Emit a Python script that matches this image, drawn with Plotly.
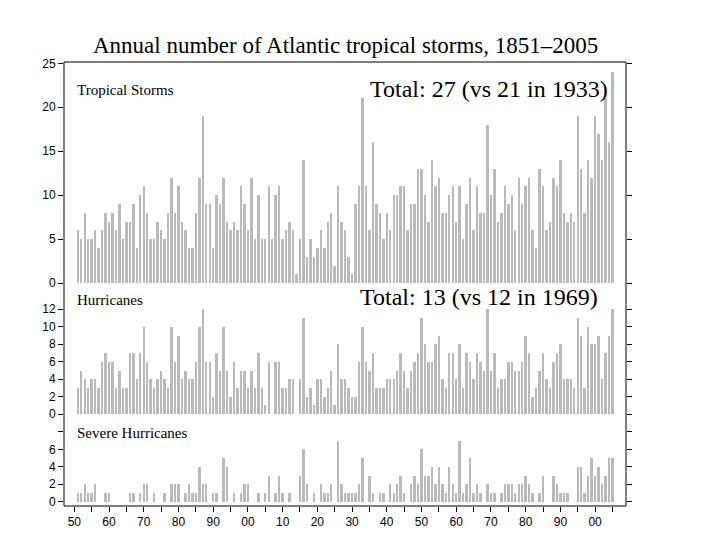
import plotly.graph_objects as go

years = list(range(1851, 2006))

storms = [
    6, 5, 8, 5, 5, 6, 4, 6, 8, 7,
    8, 6, 9, 5, 7, 7, 9, 4, 10, 11,
    8, 5, 5, 7, 6, 5, 8, 12, 8, 11,
    7, 6, 4, 4, 8, 12, 19, 9, 9, 4,
    10, 9, 12, 7, 6, 7, 6, 11, 9, 6,
    12, 5, 10, 5, 5, 11, 5, 10, 11, 5,
    6, 7, 6, 1, 5, 14, 3, 5, 3, 4,
    6, 4, 7, 8, 2, 11, 7, 6, 3, 1,
    9, 11, 21, 11, 6, 16, 9, 8, 5, 8,
    6, 10, 10, 11, 11, 6, 9, 9, 13, 13,
    10, 7, 14, 11, 12, 8, 8, 10, 11, 7,
    11, 5, 9, 12, 6, 11, 8, 8, 18, 10,
    13, 7, 8, 11, 9, 10, 6, 12, 9, 11,
    12, 6, 4, 13, 11, 6, 7, 12, 11, 14,
    8, 7, 8, 7, 19, 13, 8, 14, 12, 19,
    17, 14, 21, 16, 24,
]

hurricanes = [
    3, 5, 4, 3, 4, 4, 3, 6, 7, 6,
    6, 3, 5, 3, 3, 7, 7, 4, 7, 10,
    6, 4, 3, 4, 5, 4, 3, 10, 6, 9,
    4, 5, 4, 4, 6, 10, 12, 6, 6, 2,
    7, 5, 10, 5, 2, 6, 3, 5, 5, 3,
    5, 3, 7, 3, 1, 6, 0, 6, 6, 3,
    3, 4, 4, 0, 4, 11, 2, 3, 1, 4,
    4, 2, 3, 5, 1, 8, 4, 4, 3, 2,
    2, 6, 10, 6, 5, 7, 3, 3, 3, 4,
    4, 4, 5, 7, 5, 3, 5, 6, 7, 11,
    8, 6, 6, 8, 9, 4, 3, 7, 7, 4,
    8, 3, 7, 6, 4, 7, 6, 5, 12, 5,
    7, 3, 4, 4, 6, 6, 5, 5, 6, 9,
    7, 2, 3, 5, 7, 4, 3, 6, 7, 8,
    4, 4, 4, 3, 11, 9, 3, 10, 8, 8,
    9, 4, 7, 9, 12,
]

severe = [
    1, 1, 2, 1, 1, 2, 0, 0, 1, 1,
    0, 0, 0, 0, 0, 1, 1, 0, 1, 2,
    2, 0, 1, 0, 0, 1, 0, 2, 2, 2,
    0, 1, 2, 1, 1, 4, 2, 2, 0, 1,
    1, 0, 5, 4, 0, 1, 0, 1, 2, 2,
    0, 0, 1, 0, 1, 3, 0, 1, 3, 1,
    0, 1, 0, 0, 3, 6, 2, 0, 1, 0,
    2, 1, 1, 2, 0, 7, 2, 1, 1, 1,
    1, 2, 5, 0, 3, 1, 0, 1, 1, 0,
    2, 1, 2, 3, 1, 0, 2, 3, 2, 6,
    3, 3, 4, 2, 4, 2, 1, 4, 2, 1,
    7, 1, 2, 5, 1, 2, 1, 0, 2, 1,
    1, 0, 1, 2, 2, 2, 1, 2, 2, 3,
    2, 1, 0, 1, 3, 0, 0, 3, 2, 1,
    1, 1, 0, 0, 4, 4, 1, 3, 5, 3,
    4, 2, 3, 5, 5,
]

xtick_vals = list(range(1850, 2006, 5))
xtick_text = [("%02d" % (v % 100)) if v % 10 == 0 else "" for v in xtick_vals]

title_text = "Annual number of Atlantic tropical storms, 1851\u20132005"
panel_labels = ["Tropical Storms", "Hurricanes", "Severe Hurricanes"]
total_labels = ["Total: 27 (vs 21 in 1933)", "Total: 13 (vs 12 in 1969)"]

BAR = "#bababa"
SERIF = "Liberation Serif, Times New Roman, serif"
SANS = "Liberation Sans, Arial, sans-serif"

fig = go.Figure()
for vals, ya in [(storms, "y"), (hurricanes, "y2"), (severe, "y3")]:
    fig.add_trace(go.Bar(x=years, y=vals, xaxis="x", yaxis=ya, width=0.7,
                         marker=dict(color=BAR, line=dict(width=0)),
                         showlegend=False, hoverinfo="x+y"))

xr = [1847.03, 2008.9]
yax_common = dict(showgrid=False, zeroline=False, showline=False, ticks="outside",
                  ticklen=5, tickwidth=1, tickcolor="black", mirror="ticks",
                  tickfont=dict(family=SANS, size=12, color="black"), anchor="x")

fig.update_layout(
    width=720, height=540,
    margin=dict(l=64, r=94.3, t=61.7, b=34, pad=0),
    paper_bgcolor="white", plot_bgcolor="white",
    bargap=0,
    xaxis=dict(domain=[0, 1], range=xr, anchor="y3", showgrid=False, zeroline=False,
               showline=False, ticks="outside", ticklen=5, tickwidth=1, tickcolor="black",
               tickvals=xtick_vals, ticktext=xtick_text,
               tickfont=dict(family=SANS, size=12, color="black")),
    xaxis2=dict(range=xr, overlaying="x", side="top", anchor="y", showgrid=False,
                zeroline=False, showline=False, ticks="outside", ticklen=5, tickwidth=1,
                tickcolor="black", tickvals=xtick_vals, showticklabels=False),
    yaxis=dict(domain=[0.4907, 1], range=[-0.57, 25.15], tickvals=[0, 5, 10, 15, 20, 25],
               **yax_common),
    yaxis2=dict(domain=[0.1958, 0.4823], range=[-0.57, 13.98],
                tickvals=[0, 2, 4, 6, 8, 10, 12, 14],
                ticktext=["0", "2", "4", "6", "8", "10", "12", ""], **yax_common),
    yaxis3=dict(domain=[0, 0.1846], range=[-0.49, 8.9], tickvals=[0, 2, 4, 6, 8],
                ticktext=["0", "2", "4", "6", ""], **yax_common),
    shapes=[dict(type="rect", xref="paper", yref="paper", x0=0, x1=1, y0=0, y1=1,
                 line=dict(color="black", width=1), fillcolor="rgba(0,0,0,0)")],
)

def ann(text, x, y, size, xanchor="left"):
    fig.add_annotation(text=text, xref="paper", yref="paper", x=x, y=y,
                       xanchor=xanchor, yanchor="middle", showarrow=False,
                       font=dict(family=SERIF, size=size, color="black"))

ann(title_text, 0.5003, 1.0376, 23, "center")
ann(panel_labels[0], 0.0196, 0.9363, 15)
ann(panel_labels[1], 0.0196, 0.4637, 15)
ann(panel_labels[2], 0.0196, 0.1643, 15)
ann(total_labels[0], 0.972, 0.9386, 24, "right")
ann(total_labels[1], 0.9542, 0.4704, 24, "right")

fig.write_html("out.html")
